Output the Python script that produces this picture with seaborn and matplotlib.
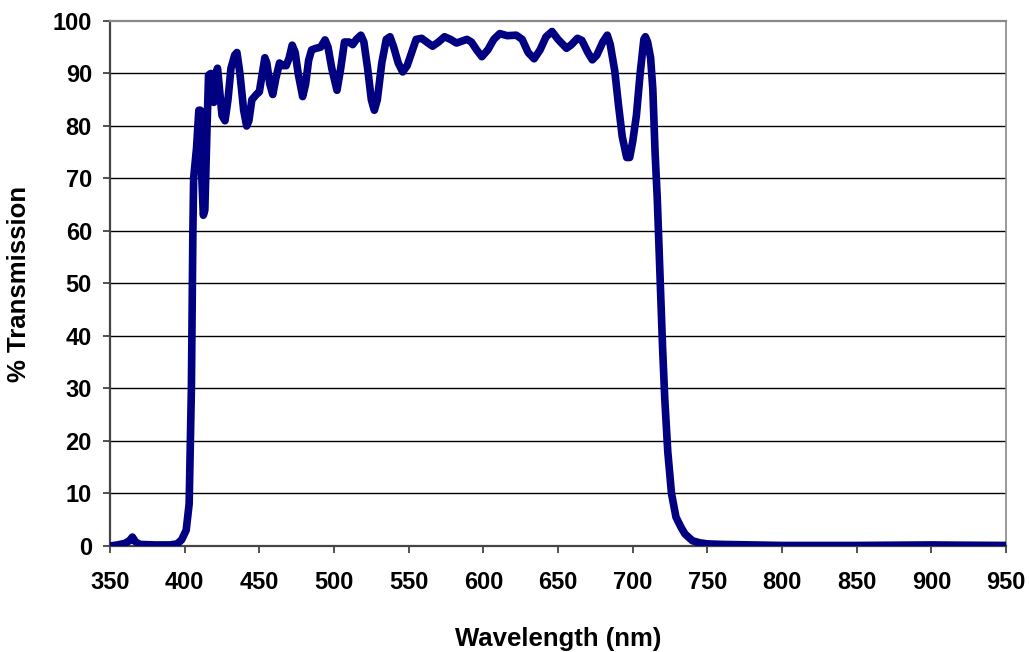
import numpy as np
import pandas as pd
import seaborn as sns
import matplotlib
matplotlib.use('Agg')
import matplotlib.pyplot as plt

# transmission curve
wavelength = [350, 355, 360, 363, 365, 367, 370, 380, 390, 395, 398, 401, 403,
              404.5, 405.5, 406, 407, 408, 409.5, 410.5, 411.5, 412.5, 413.5, 415,
              416, 417.5, 418.5, 419.5, 421, 422, 423, 425, 427, 429, 431, 433.5,
              435, 437, 439.5, 441.5, 443, 445, 448, 450, 452, 453.7, 455, 457, 459,
              461, 463.5, 466, 468, 470, 472, 474, 476, 479, 481, 483, 485, 488, 491,
              494, 496, 498.5, 502, 504.5, 507, 510, 512.5, 515, 518, 520, 522.5, 525,
              527, 529, 532, 535, 537.5, 540, 543, 546, 549, 552, 555, 558.7, 562,
              566, 570, 574, 578, 582, 586, 589, 592, 595.5, 599, 603, 607, 611, 616,
              622, 626, 630, 634, 638, 642, 646, 650, 655.7, 659, 663, 666, 670, 673,
              676, 680, 683, 685, 688, 690.5, 693, 696, 698, 700, 702.5, 705, 707.5,
              708.5, 710, 712, 713.5, 715, 716.5, 718.5, 720, 721.5, 723.5, 726, 729,
              732.5, 735, 740, 745, 750, 760, 780, 800, 850, 880, 900, 920, 950]
transmission = [0.0, 0.2, 0.5, 1.0, 1.7, 0.8, 0.3, 0.2, 0.2, 0.4, 1.2, 3.0, 8,
                30, 60, 70, 73, 76, 83, 83, 70, 63, 64, 80,
                89.7, 90, 85, 84.5, 90, 91, 88, 82, 81, 85, 91, 93.5,
                94, 90, 83, 80, 81, 85, 86, 86.5, 90, 93, 92, 88, 86,
                89, 92, 91.5, 91.5, 93, 95.4, 94, 90, 85.6, 88, 92.5, 94.5, 94.8, 95,
                96.4, 95, 91, 86.8, 91, 96, 96, 95.5, 96.5, 97.3, 96, 91, 85,
                83, 85, 92, 96.5, 97, 95, 92, 90.3, 91.5, 94, 96.5, 96.7, 96,
                95.2, 96, 97, 96.5, 95.8, 96.2, 96.5, 96, 94.5, 93.2, 94.5, 96.5, 97.6, 97.2,
                97.3, 96.5, 94, 92.8, 94.5, 97, 98, 96.5, 94.8, 95.5, 96.7, 96.3, 94, 92.6,
                93.5, 96, 97.3, 95.5, 90.5, 84, 78, 74, 74, 77, 82, 90, 96.5,
                97, 96, 93, 87, 75, 66, 50, 38, 28, 18, 10, 5.5,
                3.5, 2.3, 1.0, 0.6, 0.4, 0.3, 0.2, 0.1, 0.1, 0.15, 0.2, 0.15, 0.1]

xticks = np.arange(350, 951, 50)
yticks = np.arange(0, 101, 10)

datos = pd.DataFrame({'wl': wavelength, 'T': transmission})

sns.set_style('white')
plt.rcParams['font.family'] = ['Liberation Sans', 'DejaVu Sans']
plt.rcParams['font.weight'] = 'bold'
plt.rcParams['text.color'] = 'black'
plt.rcParams['axes.labelcolor'] = 'black'
plt.rcParams['xtick.color'] = 'black'
plt.rcParams['ytick.color'] = 'black'

fig = plt.figure(figsize=(10.3, 6.52), dpi=100)
ax = fig.add_axes([0.1068, 0.1626, 0.8699, 0.8052])

for v in yticks[1:-1]:
    ax.axhline(v, color='black', lw=1, zorder=1)

sns.lineplot(data=datos, x='wl', y='T', sort=False, color='#000080', lw=5.5,
             ax=ax, zorder=3, solid_joinstyle='round', solid_capstyle='round')

ax.set_xlim(350, 950)
ax.set_ylim(0, 100)
ax.set_xticks(xticks)
ax.set_yticks(yticks)
ax.tick_params(axis='both', direction='out', length=5, width=1.2,
               labelsize=17, left=True, bottom=True)
ax.tick_params(axis='x', pad=13)
ax.tick_params(axis='y', pad=8)
ax.tick_params(color='#333333')
for lab in ax.get_xticklabels() + ax.get_yticklabels():
    lab.set_fontweight('bold')

ax.spines['left'].set_color('#444444')
ax.spines['bottom'].set_color('#444444')
ax.spines['left'].set_linewidth(1.6)
ax.spines['bottom'].set_linewidth(1.6)
ax.spines['top'].set_color('#888888')
ax.spines['right'].set_color('#888888')
ax.spines['top'].set_linewidth(1.6)
ax.spines['right'].set_linewidth(1.2)
for s in ax.spines.values():
    s.set_visible(True)
    s.set_zorder(2)

ax.set_xlabel('Wavelength (nm)', fontsize=18.5, fontweight='bold')
ax.set_ylabel('% Transmission', fontsize=18.5, fontweight='bold')
ax.xaxis.set_label_coords(0.5, -0.155)
ax.yaxis.set_label_coords(-0.088, 0.5)

fig.savefig('out.png', dpi=100)
